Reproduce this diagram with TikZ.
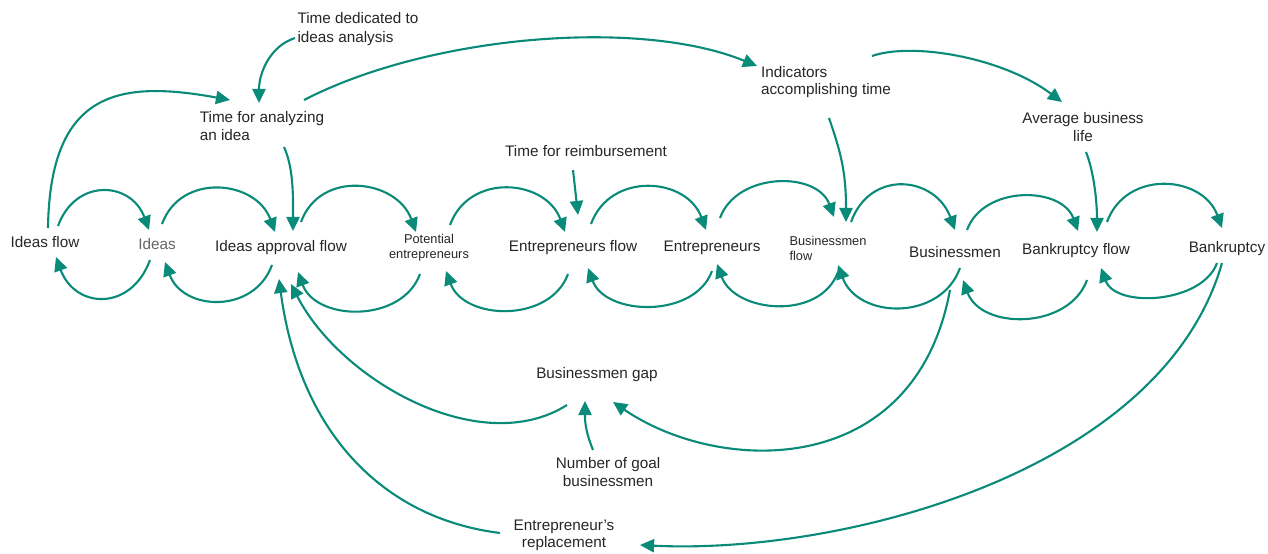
\documentclass[tikz,border=0pt]{standalone}
\usepackage{fontspec}
\setmainfont{Liberation Sans}
\usetikzlibrary{arrows.meta,calc}

\definecolor{loopteal}{RGB}{10,138,120}
\definecolor{labelgray}{RGB}{38,38,38}

\begin{document}
\begin{tikzpicture}[x=0.02cm, y=-0.02cm,
    var/.style={font=\fontsize{8.7}{10.5}\selectfont, text=labelgray, inner sep=0pt, align=center},
    smallvar/.style={var, font=\fontsize{7.3}{8.6}\selectfont},
    link/.style={draw=loopteal, line width=1.2pt, -{Triangle[length=8pt,width=7.5pt]}},
    overarc/.style={out=70, in=110, looseness=1.25},
    underarc/.style={out=-110, in=-70, looseness=1.25}]

    \useasboundingbox (0,0) rectangle (1268,554);

    % Main chain of stocks and flows
    \node[var] (ideasflow) at (45,242) {Ideas flow};
    \node[var, text=black!60] (ideas) at (157,244) {Ideas};
    \node[var] (approval) at (281,248) {Ideas approval flow};
    \node[smallvar] (potential) at (429,248) {Potential\\entrepreneurs};
    \node[var] (entflow) at (573,248) {Entrepreneurs flow};
    \node[var] (entre) at (712,248) {Entrepreneurs};
    \node[smallvar, align=left] (bflow) at (828,248) {Businessmen\\flow};
    \node[var] (bmen) at (955,252) {Businessmen};
    \node[var] (bkflow) at (1076,251) {Bankruptcy flow};
    \node[var] (bankr) at (1227,249) {Bankruptcy};

    % Auxiliary variables
    \node[var, align=left] (tdedic) at (358,29) {Time dedicated to\\ideas analysis};
    \node[var, align=left] (tanalyze) at (262,126) {Time for analyzing\\an idea};
    \node[var] (treimb) at (586,151) {Time for reimbursement};
    \node[var, align=left, font=\fontsize{8.7}{9.2}\selectfont] (indic) at (826,82) {Indicators\\accomplishing time};
    \node[var] (avglife) at (1083,127) {Average business\\life};
    \node[var] (bgap) at (597,375) {Businessmen gap};
    \node[var] (goal) at (608,472) {Number of goal\\businessmen};
    \node[var, font=\fontsize{8.7}{9.8}\selectfont] (replace) at (564,535) {Entrepreneur's\\replacement};

    % Arcs over the chain
    \draw[link] ($(ideasflow)+(13,-16)$) to[overarc, looseness=1.45] ($(ideas)+(-8,-14)$);
    \draw[link] ($(ideas)+(5,-20)$) to[overarc] ($(approval)+(-6,-16)$);
    \draw[link] ($(approval)+(20,-26)$) to[overarc] ($(potential)+(-13,-16)$);
    \draw[link] ($(potential)+(21,-23)$) to[overarc] ($(entflow)+(-8,-16)$);
    \draw[link] ($(entflow)+(18,-24)$) to[overarc] ($(entre)+(-6,-18)$);
    \draw[link] ($(entre)+(8,-30)$) to[overarc, looseness=1.1] ($(bflow)+(6,-31)$);
    \draw[link] ($(bflow)+(23,-26)$) to[overarc, looseness=1.4] ($(bmen)+(0,-22)$);
    \draw[link] ($(bmen)+(12,-22)$) to[overarc, looseness=1.1] ($(bkflow)+(2,-20)$);
    \draw[link] ($(bkflow)+(31,-29)$) to[overarc] ($(bankr)+(-5,-21)$);

    % Arcs under the chain
    \draw[link] ($(ideas)+(-7,16)$) to[underarc, looseness=1.5] ($(ideasflow)+(11,15)$);
    \draw[link] ($(approval)+(-9,17)$) to[underarc] ($(ideas)+(8,18)$);
    \draw[link] ($(potential)+(-9,26)$) to[underarc, looseness=1.1] ($(approval)+(17,24)$);
    \draw[link] ($(entflow)+(-5,26)$) to[underarc, looseness=1.1] ($(potential)+(17,23)$);
    \draw[link] ($(entre)+(0,23)$) to[underarc, looseness=1.05] ($(entflow)+(15,20)$);
    \draw[link] ($(bflow)+(10,24)$) to[underarc, looseness=1.1] ($(entre)+(5,16)$);
    \draw[link] ($(bmen)+(5,16)$) to[underarc, looseness=1.2] ($(bflow)+(10,17)$);
    \draw[link] ($(bkflow)+(11,29)$) to[underarc, looseness=1.1] ($(bmen)+(8,28)$);
    \draw[link] ($(bankr)+(-10,14)$) to[underarc, looseness=0.95] ($(bkflow)+(25,17)$);

    % Links to and from the auxiliaries
    \draw[link] ($(ideasflow)+(3,-14)$) .. controls +(2,-138) and +(-110,-20) .. ($(tanalyze)+(-32,-26)$);
    \draw[link] ($(tdedic)+(-63,9)$) .. controls +(-25,8) and +(0,-30) .. ($(tanalyze)+(-3,-23)$);
    \draw[link] ($(tanalyze)+(42,-26)$) .. controls +(126,-65) and +(-117,-48) .. ($(indic)+(-69,-16)$);
    \draw[link] ($(tanalyze)+(22,21)$) .. controls +(10,22) and +(0,-32) .. ($(approval)+(12,-17)$);
    \draw[link] ($(treimb)+(-13,19)$) -- ($(entflow)+(5,-33)$);
    \draw[link] ($(indic)+(3,36)$) .. controls +(12,35) and +(0,-50) .. ($(bflow)+(18,-26)$);
    \draw[link] ($(indic)+(46,-26)$) .. controls +(40,-14) and +(-60,-45) .. ($(avglife)+(-21,-25)$);
    \draw[link] ($(avglife)+(3,25)$) .. controls +(8,20) and +(0,-30) .. ($(bkflow)+(21,-19)$);
    \draw[link] ($(bgap)+(-30,30)$) .. controls +(-87,55) and +(49,96) .. ($(approval)+(10,36)$);
    \draw[link] ($(goal)+(-15,-22)$) .. controls +(-8,-20) and +(0,20) .. ($(bgap)+(-12,26)$);
    \draw[link] ($(bmen)+(-5,38)$) .. controls +(-35,190) and +(107,73) .. ($(bgap)+(16,27)$);
    \draw[link] ($(replace)+(-64,-2)$) .. controls +(-120,-15) and +(20,150) .. ($(approval)+(-2,31)$);
    \draw[link] ($(bankr)+(-5,14)$) .. controls +(-60,210) and +(200,10) .. ($(replace)+(76,10)$);

\end{tikzpicture}
\end{document}
